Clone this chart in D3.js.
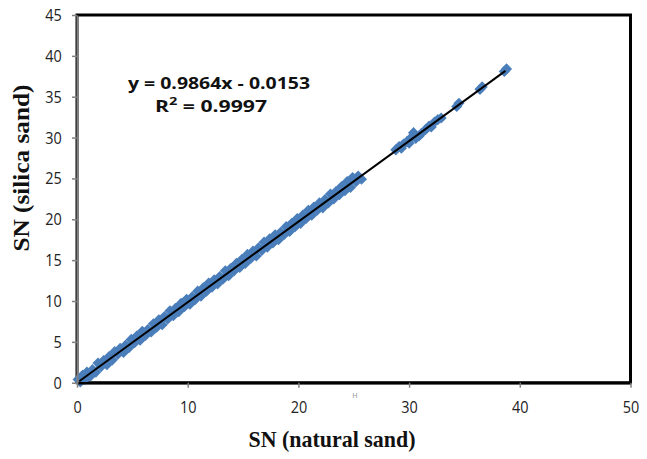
<!DOCTYPE html>
<html><head><meta charset="utf-8">
<script src="https://cdn.jsdelivr.net/npm/d3@7"></script>
<style>html,body{margin:0;padding:0;background:#fff;}svg{display:block;}</style>
</head><body>
<svg id="chart" width="647" height="459"></svg>
<script>
// ---- data ----
const xValues = [0.1,0.3,0.5,0.7,0.9,1.2,1.4,1.7,1.9,2.2,2.4,2.7,2.9,3.2,3.4,3.7,3.9,4.2,4.4,4.7,4.9,5.2,5.4,5.7,5.9,6.2,6.4,6.7,6.9,7.2,7.4,7.7,7.9,8.2,8.4,8.7,8.9,9.2,9.4,9.7,9.9,10.2,10.4,10.7,10.9,11.2,11.4,11.7,11.9,12.2,12.4,12.7,12.9,13.2,13.4,13.7,13.9,14.2,14.4,14.7,14.9,15.2,15.4,15.7,15.9,16.2,16.4,16.7,16.9,17.2,17.4,17.7,17.9,18.2,18.4,18.7,18.9,19.2,19.4,19.7,19.9,20.2,20.4,20.7,20.9,21.2,21.4,21.7,21.9,22.2,22.4,22.7,22.9,23.2,23.4,23.7,23.9,24.2,24.4,24.7,24.9,25.2,25.4,25.7,
  28.8,29.1,29.3,29.5,29.8,30.0,30.2,30.4,30.6,30.9,31.1,
  31.5,31.8,32.0,32.3,32.6,32.9,
  34.3,34.5,36.4,36.6,38.6,38.8];
const yValues = [0.4,0.1,0.9,0.4,1.3,0.8,1.6,1.3,2.4,2.0,2.7,2.2,3.2,2.8,3.8,3.5,4.2,3.7,4.6,4.3,5.3,4.9,5.7,5.2,6.3,5.8,6.5,6.2,7.2,6.8,7.7,7.1,8.1,7.8,8.8,8.2,9.1,8.7,9.7,9.3,10.2,9.6,10.5,10.2,11.2,10.6,11.6,11.2,12.2,11.7,12.6,12.1,13.0,12.7,13.7,13.1,14.0,13.7,14.6,14.1,15.1,14.6,15.7,15.2,16.1,15.5,16.5,16.2,17.2,16.6,17.6,17.1,18.1,17.5,18.4,18.1,19.1,18.5,19.5,19.1,20.1,19.5,20.5,20.1,21.1,20.5,21.5,21.1,22.0,21.4,22.4,22.0,23.1,22.5,23.4,23.0,24.0,23.5,24.6,23.9,25.1,24.6,25.3,24.9,
  28.5,28.9,28.7,29.2,29.5,29.3,30.0,30.6,29.9,30.2,30.5,
  31.0,31.4,31.3,31.9,32.2,32.4,
  33.8,34.2,35.9,36.2,38.1,38.4];
const slope = 0.9864, intercept = -0.0153, rSquared = 0.9997;
const trendX = [0.2, 38.7];
const xTicks = [0,10,20,30,40,50];
const yTicks = [0,5,10,15,20,25,30,35,40,45];
const xTitle = "SN (natural sand)";
const yTitle = "SN (silica sand)";
const eqLine1 = "y = 0.9864x - 0.0153";

// ---- drawing ----
const svg = d3.select("#chart");
const L = 77, T = 15, R = 630.5, B = 382.7;
const x = d3.scaleLinear().domain([0,50]).range([L,R]);
const y = d3.scaleLinear().domain([0,45]).range([B,T]);
const axisGray = "#808080";
const pts = xValues.map((v,i)=>({x:v,y:yValues[i]}));

// frame
svg.append("rect").attr("x",L).attr("y",T).attr("width",R-L).attr("height",B-T)
  .attr("fill","#fff").attr("stroke","#000").attr("stroke-width",3);

// markers
const sym = d3.symbol().type(d3.symbolSquare).size(62);
svg.append("g").selectAll("path").data(pts).join("path")
  .attr("d", sym)
  .attr("transform", d=>`translate(${x(d.x)},${y(d.y)}) rotate(45)`)
  .attr("fill","#4a7ebb");

// trend line
svg.append("path")
  .datum(trendX.map(v=>({x:v,y:slope*v+intercept})))
  .attr("d", d3.line().x(d=>x(d.x)).y(d=>y(d.y)))
  .attr("stroke","#000").attr("stroke-width",2).attr("fill","none");

// axes
const gx = svg.append("g").attr("transform",`translate(0,${B})`)
  .call(d3.axisBottom(x).tickValues(xTicks).tickSize(5).tickPadding(13).tickSizeOuter(0));
const gy = svg.append("g").attr("transform",`translate(${L},0)`)
  .call(d3.axisLeft(y).tickValues(yTicks).tickSize(5).tickPadding(13).tickSizeOuter(0));
[gx,gy].forEach(g=>{
  g.select(".domain").attr("stroke",axisGray).attr("stroke-width",2);
  g.selectAll(".tick line").attr("stroke",axisGray).attr("stroke-width",1.5);
  g.selectAll(".tick text").attr("fill","#222").attr("font-family","'Open Sans', sans-serif")
   .attr("font-size",17);
});
gx.select(".domain").attr("stroke","#000").attr("stroke-width",2.5);
gx.selectAll(".tick text").attr("transform","scale(0.85,1)");
gy.selectAll(".tick text").attr("transform","scale(0.85,1)");

// equation
svg.append("text").attr("x",219).attr("y",89).attr("text-anchor","middle")
  .attr("font-family","'Open Sans', sans-serif").attr("font-weight","bold").attr("font-size",16)
  .attr("textLength",182).attr("lengthAdjust","spacingAndGlyphs").attr("fill","#111")
  .text(eqLine1);
const r2 = svg.append("text").attr("x",211).attr("y",112).attr("text-anchor","middle")
  .attr("font-family","'Open Sans', sans-serif").attr("font-weight","bold").attr("font-size",16)
  .attr("textLength",112).attr("lengthAdjust","spacingAndGlyphs")
  .attr("fill","#111");
r2.append("tspan").text("R");
r2.append("tspan").attr("dy",-7).attr("font-size",11).text("2");
r2.append("tspan").attr("dy",7).text(" = " + rSquared.toFixed(4));

// axis titles
svg.append("text").attr("x",332).attr("y",447).attr("text-anchor","middle")
  .attr("font-family","'Liberation Serif', serif").attr("font-weight","bold").attr("font-size",23)
  .attr("textLength",167).attr("lengthAdjust","spacingAndGlyphs").attr("fill","#111")
  .text(xTitle);
svg.append("text").attr("transform","translate(29,168) rotate(-90)").attr("text-anchor","middle")
  .attr("font-family","'Liberation Serif', serif").attr("font-weight","bold").attr("font-size",23)
  .attr("textLength",167).attr("lengthAdjust","spacingAndGlyphs").attr("fill","#111")
  .text(yTitle);

// small stray mark seen below the axis
svg.append("text").attr("x",355).attr("y",398).attr("text-anchor","middle")
  .attr("font-family","'DejaVu Sans', sans-serif").attr("font-size",7).attr("fill","#999").text("H");
</script>
</body></html>
